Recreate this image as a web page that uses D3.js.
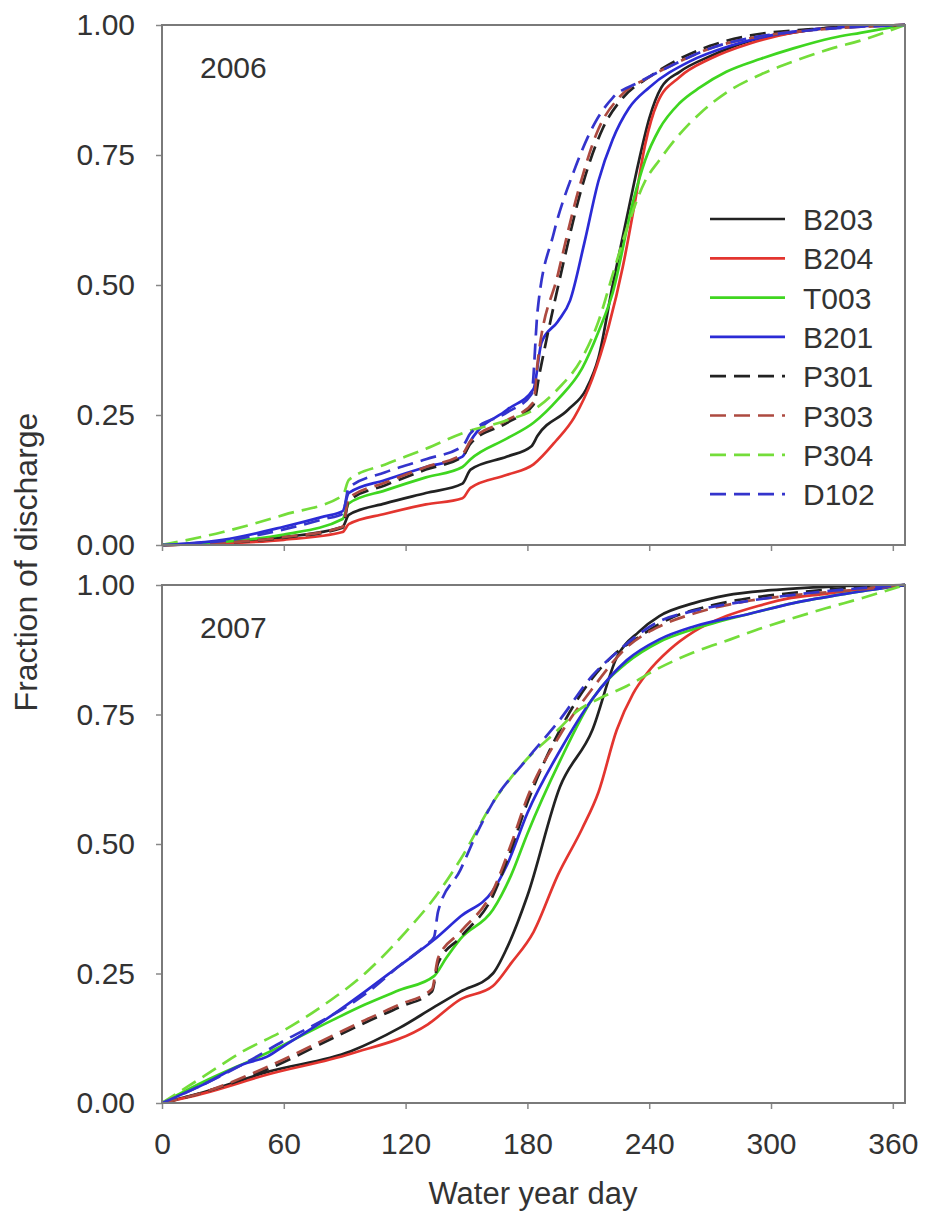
<!DOCTYPE html>
<html>
<head>
<meta charset="utf-8">
<script src="https://cdn.jsdelivr.net/npm/d3@7"></script>
<style>
  body { margin: 0; background: #fff; }
  text { font-family: "Liberation Sans", Arial, sans-serif; fill: #333; }
</style>
</head>
<body>
<script>
// Cumulative fraction of discharge by water year day, 2006 and 2007

const sites = ["B203", "B204", "T003", "B201", "P301", "P303", "P304", "D102"];
const xTicks = [0, 60, 120, 180, 240, 300, 360];
const yTicks = [0, 0.25, 0.5, 0.75, 1];
const years = ["2006", "2007"];

// [water year day, fraction of discharge]
const b203_2006 = [[0,0],[30,0.004],[60,0.015],[89,0.035],[92,0.058],[110,0.08],[130,0.1],[148,0.118],[152,0.145],[170,0.17],[182,0.19],[185,0.21],[200,0.26],[209,0.3],[215,0.36],[222,0.5],[229,0.63],[235,0.74],[240,0.82],[246,0.88],[255,0.91],[270,0.94],[290,0.97],[310,0.985],[330,0.995],[366,1]];
const b204_2006 = [[0,0],[30,0.003],[60,0.01],[89,0.025],[92,0.04],[110,0.06],[130,0.078],[148,0.09],[152,0.11],[170,0.135],[183,0.155],[194,0.2],[203,0.245],[212,0.32],[220,0.42],[227,0.535],[233,0.66],[238,0.77],[244,0.85],[255,0.9],[270,0.935],[290,0.965],[310,0.985],[330,0.995],[366,1]];
const t003_2006 = [[0,0],[30,0.006],[60,0.02],[89,0.05],[92,0.08],[110,0.105],[130,0.13],[148,0.15],[152,0.165],[170,0.205],[183,0.235],[195,0.28],[207,0.34],[215,0.41],[222,0.485],[232,0.66],[238,0.74],[245,0.8],[255,0.85],[265,0.88],[278,0.91],[295,0.935],[311,0.955],[330,0.975],[344,0.985],[366,1]];
const b201_2006 = [[0,0],[30,0.01],[60,0.035],[80,0.055],[89,0.065],[92,0.1],[110,0.125],[130,0.15],[148,0.17],[152,0.2],[170,0.26],[183,0.3],[187,0.39],[195,0.43],[201,0.47],[208,0.58],[215,0.7],[222,0.78],[230,0.84],[240,0.88],[260,0.93],[280,0.96],[300,0.98],[330,0.995],[366,1]];
const p301_2006 = [[0,0],[30,0.004],[60,0.014],[89,0.033],[92,0.085],[110,0.115],[130,0.145],[148,0.17],[152,0.195],[170,0.235],[183,0.27],[186,0.33],[197,0.53],[207,0.69],[217,0.8],[227,0.86],[240,0.9],[255,0.935],[270,0.96],[290,0.98],[320,0.992],[366,1]];
const p303_2006 = [[0,0],[30,0.004],[60,0.015],[89,0.035],[92,0.09],[110,0.12],[130,0.15],[148,0.175],[152,0.2],[170,0.24],[183,0.275],[185,0.35],[195,0.52],[205,0.68],[215,0.8],[225,0.86],[240,0.9],[255,0.93],[270,0.955],[290,0.975],[320,0.99],[366,1]];
const p304_2006 = [[0,0],[30,0.025],[60,0.058],[89,0.095],[92,0.125],[110,0.155],[130,0.185],[148,0.215],[170,0.24],[183,0.26],[195,0.3],[207,0.36],[215,0.43],[222,0.52],[230,0.62],[238,0.7],[245,0.74],[255,0.79],[265,0.83],[278,0.87],[295,0.905],[311,0.93],[330,0.955],[344,0.97],[366,1]];
const d102_2006 = [[0,0],[30,0.008],[60,0.03],[80,0.05],[89,0.06],[92,0.11],[110,0.14],[130,0.165],[148,0.19],[152,0.215],[170,0.255],[182,0.29],[185,0.45],[193,0.6],[203,0.72],[213,0.81],[222,0.86],[235,0.89],[250,0.92],[270,0.955],[290,0.975],[320,0.99],[366,1]];

const b203_2007 = [[0,0],[20,0.02],[52,0.06],[93,0.1],[117,0.145],[134,0.185],[147,0.215],[163,0.25],[170,0.3],[180,0.4],[196,0.61],[212,0.72],[224,0.86],[235,0.91],[245,0.94],[262,0.965],[278,0.98],[300,0.99],[330,0.997],[366,1]];
const b204_2007 = [[0,0],[20,0.018],[52,0.055],[93,0.095],[131,0.152],[147,0.2],[163,0.226],[172,0.27],[183,0.33],[195,0.44],[207,0.53],[215,0.6],[224,0.72],[232,0.79],[239,0.83],[250,0.875],[262,0.91],[278,0.94],[294,0.96],[310,0.975],[327,0.983],[345,0.992],[366,1]];
const t003_2007 = [[0,0],[20,0.04],[52,0.097],[84,0.16],[100,0.19],[117,0.218],[134,0.245],[140,0.28],[147,0.317],[163,0.373],[172,0.44],[180,0.52],[196,0.66],[212,0.78],[229,0.85],[245,0.89],[262,0.915],[290,0.945],[311,0.965],[340,0.985],[366,1]];
const b201_2007 = [[0,0],[20,0.035],[40,0.075],[52,0.09],[60,0.11],[84,0.17],[100,0.215],[117,0.265],[134,0.315],[147,0.36],[163,0.41],[170,0.46],[180,0.56],[196,0.68],[212,0.78],[229,0.855],[245,0.895],[262,0.92],[290,0.945],[311,0.965],[340,0.985],[366,1]];
const p301_2007 = [[0,0],[20,0.02],[52,0.065],[84,0.125],[100,0.155],[117,0.185],[133,0.215],[136,0.27],[147,0.32],[163,0.4],[172,0.49],[180,0.58],[196,0.72],[212,0.82],[224,0.87],[235,0.9],[250,0.935],[270,0.96],[290,0.975],[311,0.985],[340,0.995],[366,1]];
const p303_2007 = [[0,0],[20,0.02],[52,0.07],[84,0.13],[100,0.16],[117,0.19],[133,0.22],[136,0.28],[147,0.33],[163,0.41],[172,0.5],[180,0.59],[196,0.71],[212,0.8],[229,0.88],[245,0.92],[262,0.945],[290,0.97],[311,0.98],[340,0.99],[366,1]];
const p304_2007 = [[0,0],[20,0.05],[40,0.1],[60,0.14],[80,0.19],[100,0.25],[120,0.33],[135,0.4],[147,0.47],[163,0.58],[180,0.665],[195,0.72],[204,0.755],[215,0.78],[229,0.805],[245,0.84],[262,0.87],[280,0.895],[294,0.915],[310,0.935],[327,0.955],[345,0.975],[366,1]];
const d102_2007 = [[0,0],[20,0.035],[40,0.075],[60,0.12],[84,0.17],[100,0.21],[117,0.265],[130,0.305],[134,0.32],[136,0.37],[147,0.45],[155,0.52],[163,0.58],[180,0.665],[196,0.74],[212,0.825],[224,0.87],[245,0.93],[262,0.95],[290,0.97],[320,0.985],[366,1]];

const data2006 = [b203_2006, b204_2006, t003_2006, b201_2006, p301_2006, p303_2006, p304_2006, d102_2006];
const data2007 = [b203_2007, b204_2007, t003_2007, b201_2007, p301_2007, p303_2007, p304_2007, d102_2007];

// line styles, same order as sites
let siteColor = ["#222222", "#e3352f", "#3fd620", "#2b2bd6", "#222222", "#ad4a40", "#74dd3a", "#3434cc"];
let siteDash  = [null, null, null, null, "16,8", "16,8", "16,8", "16,8"];

////////////////////////////////////////////////////////////////////////////
// layout

const WIDTH = 928,
      HEIGHT = 1221;

let panels = [
    {year: years[0], top: 25,  bottom: 545,  data: data2006, labels: false},
    {year: years[1], top: 585, bottom: 1103, data: data2007, labels: true}
];

let svg = d3.select("body").append("svg")
            .attr("width", WIDTH)
            .attr("height", HEIGHT);

let xScale = d3.scaleLinear()
    .domain([0, 366])
    .range([162, 905]);

panels.forEach(p => {
    let yScale = d3.scaleLinear()
        .domain([0, 1])
        .range([p.bottom, p.top]);

    let g = svg.append("g");

    let line = d3.line()
        .x(d => xScale(d[0]))
        .y(d => yScale(d[1]))
        .curve(d3.curveMonotoneX);

    g.selectAll("path.site")
        .data(p.data)
        .enter().append("path")
            .attr("class", "site")
            .attr("d", line)
            .attr("fill", "none")
            .attr("stroke", (d, i) => siteColor[i])
            .attr("stroke-width", 2.7)
            .attr("stroke-dasharray", (d, i) => siteDash[i]);

    // axes
    let xAxis = g.append("g")
        .attr("transform", "translate(0," + p.bottom + ")")
        .call(d3.axisBottom(xScale)
            .tickValues(xTicks)
            .tickSize(6)
            .tickSizeOuter(0)
            .tickPadding(24)
            .tickFormat(p.labels ? d3.format("d") : ""));

    let yAxis = g.append("g")
        .attr("transform", "translate(" + xScale(0) + ",0)")
        .call(d3.axisLeft(yScale)
            .tickValues(yTicks)
            .tickSize(6)
            .tickSizeOuter(0)
            .tickPadding(21)
            .tickFormat(d3.format(".2f")));

    [xAxis, yAxis].forEach(a => {
        a.select(".domain").remove();
        a.selectAll("line").attr("stroke", "#888").attr("stroke-width", 1.5);
        a.selectAll("text").attr("font-size", 30).attr("fill", "#333")
            .style("font-family", "'Liberation Sans', Arial, sans-serif");
    });

    // frame
    g.append("rect")
        .attr("x", xScale(0))
        .attr("y", p.top)
        .attr("width", xScale(366) - xScale(0))
        .attr("height", p.bottom - p.top)
        .attr("fill", "none")
        .attr("stroke", "#7a7a7a")
        .attr("stroke-width", 2);

    g.append("text")
        .attr("x", 200)
        .attr("y", p.top + 53)
        .attr("font-size", 30)
        .text(p.year);
});

// legend (top panel)
let legend = svg.append("g")
    .selectAll("g")
    .data(sites)
    .enter().append("g")
        .attr("transform", (d, i) => "translate(710," + (219 + i * 39.3) + ")");

legend.append("line")
    .attr("x1", 0).attr("x2", 75)
    .attr("stroke", (d, i) => siteColor[i])
    .attr("stroke-width", 2.7)
    .attr("stroke-dasharray", (d, i) => siteDash[i]);

legend.append("text")
    .attr("x", 93)
    .attr("y", 11)
    .attr("font-size", 30)
    .text(d => d);

// axis titles
svg.append("text")
    .attr("x", 533)
    .attr("y", 1204)
    .attr("font-size", 31)
    .style("text-anchor", "middle")
    .text("Water year day");

svg.append("text")
    .attr("transform", "translate(37,562) rotate(-90)")
    .attr("font-size", 32)
    .style("text-anchor", "middle")
    .text("Fraction of discharge");
</script>
</body>
</html>
